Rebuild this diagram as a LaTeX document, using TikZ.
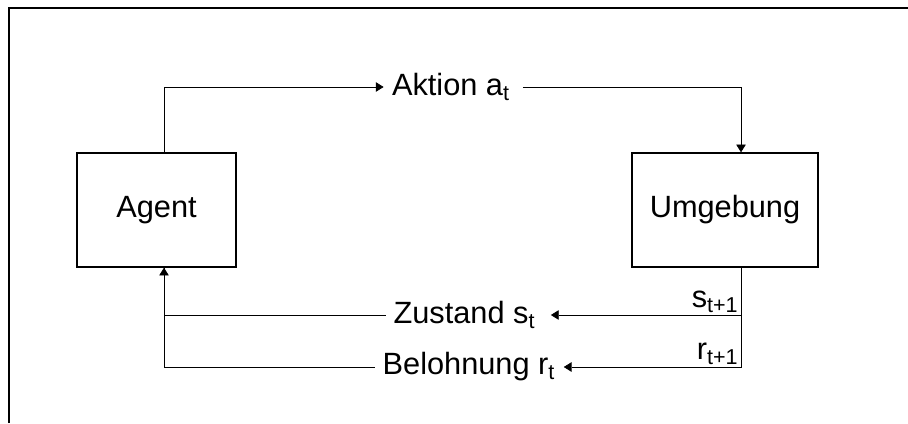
\documentclass[tikz,border=0pt]{standalone}
\usepackage{fontspec}
\setmainfont{Liberation Sans}
\usetikzlibrary{arrows.meta, positioning}

\begin{document}
\begin{tikzpicture}[x=0.02cm, y=-0.02cm]
	\tikzset{>={Triangle[length=5pt, width=6pt]}, line width=0.8pt,
		block/.style={draw, line width=1.6pt, rectangle, font=\fontsize{17.5}{20}\selectfont},
		signal/.style={inner xsep=4pt, inner ysep=2pt, font=\fontsize{17.5}{20}\selectfont},
		index/.style={inner sep=1pt, font=\fontsize{17.5}{20}\selectfont}}

	\useasboundingbox (0,0) rectangle (908,423);
	% frame (only left and top edge inside the page)
	\draw[line width=1.6pt] (9,423) -- (9,8) -- (908,8);

	\node[block, minimum width=3.18cm, minimum height=2.28cm] (agent) at (156.5,210) {Agent};
	\node[block, minimum width=3.72cm, minimum height=2.28cm] (env) at (725,210) {Umgebung};

	\node[signal] (action) at (451,87) {Aktion a\textsubscript{t}};
	\node[signal] (state) at (464.5,315) {Zustand s\textsubscript{t}};
	\node[signal] (reward) at (469,367) {Belohnung r\textsubscript{t}};

	\coordinate (aout) at (164,153);
	\coordinate (ain) at (164,267);
	\coordinate (ein) at (741,153);
	\coordinate (eout) at (741,267);

	\node[index, anchor=south east] (snext) at (eout |- state) {s\textsubscript{t+1}};
	\node[index, anchor=south east] (rnext) at (eout |- reward) {r\textsubscript{t+1}};

	\draw[->] (aout) |- (action.west);
	\draw[->] ([xshift=3pt]action.east) -| (ein);
	\draw[->] (eout) |- (reward.east);
	\draw[->] (eout |- state) -- ([xshift=4pt]state.east);
	\draw[->] (reward.west) -| (ain);
	\draw (state.west) -| (ain);
\end{tikzpicture}
\end{document}
